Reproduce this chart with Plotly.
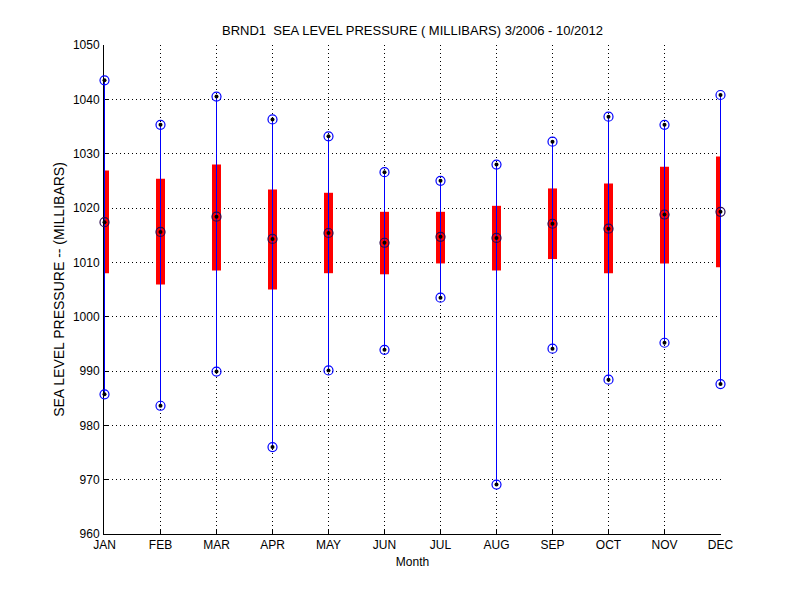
import plotly.graph_objects as go

# monthly sea level pressure stats, BRND1 (millibars)
months = ['JAN', 'FEB', 'MAR', 'APR', 'MAY', 'JUN', 'JUL', 'AUG', 'SEP', 'OCT', 'NOV', 'DEC']
p_max = [1043.5, 1035.3, 1040.5, 1036.3, 1033.2, 1026.6, 1025.0, 1028.0, 1032.2, 1036.8, 1035.3, 1040.8]
p_q3 = [1026.9, 1025.4, 1028.0, 1023.4, 1022.8, 1019.3, 1019.3, 1020.4, 1023.6, 1024.5, 1027.6, 1029.5]
p_med = [1017.4, 1015.6, 1018.4, 1014.3, 1015.4, 1013.6, 1014.7, 1014.5, 1017.1, 1016.2, 1018.8, 1019.3]
p_q1 = [1008.0, 1005.9, 1008.5, 1005.0, 1008.0, 1007.8, 1009.8, 1008.5, 1010.6, 1008.0, 1009.8, 1009.1]
p_min = [985.7, 983.6, 989.9, 976.0, 990.1, 993.9, 1003.5, 969.1, 994.1, 988.4, 995.2, 987.6]

x = list(range(1, len(months) + 1))
clear = dict(size=1, color='rgba(0,0,0,0)')

fig = go.Figure()

# red interquartile box, drawn as a thick error bar so it isn't clipped at JAN/DEC
fig.add_trace(go.Scatter(
    x=x, y=p_q1, mode='markers', marker=clear, cliponaxis=False,
    error_y=dict(type='data', symmetric=False,
                 array=[hi - lo for hi, lo in zip(p_q3, p_q1)],
                 arrayminus=[0] * len(x),
                 thickness=9, width=0, color='#ff0000'),
))

# blue whisker min -> max
fig.add_trace(go.Scatter(
    x=x, y=p_min, mode='markers', marker=clear, cliponaxis=False,
    error_y=dict(type='data', symmetric=False,
                 array=[hi - lo for hi, lo in zip(p_max, p_min)],
                 arrayminus=[0] * len(x),
                 thickness=1, width=0, color='#0000ff'),
))

# circles with a black dot at max, median, min (median ring reads darker on the red)
for vals, ring in ((p_max, '#0000ff'), (p_med, '#2a0a50'), (p_min, '#0000ff')):
    fig.add_trace(go.Scatter(x=x, y=vals, mode='markers', cliponaxis=False,
                             marker=dict(symbol='circle-open', size=9, color=ring,
                                         line=dict(width=1.2))))
    fig.add_trace(go.Scatter(x=x, y=vals, mode='markers', cliponaxis=False,
                             marker=dict(symbol='circle', size=4, color='black')))

font = 'Liberation Sans, Arial, sans-serif'
# page body adds 8px, so margins are pulled in by 8.
# plot width 617 px with half a pixel of padding each side -> 56 px per month,
# so the 1px whiskers land on whole pixels
pad = 0.5 / 56
fig.update_layout(
    width=800, height=600,
    paper_bgcolor='white', plot_bgcolor='white',
    showlegend=False,
    margin=dict(l=96, r=87, t=37, b=74),
    font=dict(family=font, size=12, color='black'),
    title=dict(text='BRND1  SEA LEVEL PRESSURE ( MILLIBARS) 3/2006 - 10/2012',
               x=0.5, xref='paper', xanchor='center',
               y=1, yref='paper', yanchor='bottom', pad=dict(b=10),
               font=dict(size=13)),
)
fig.update_xaxes(
    range=[1 - pad, 12 + pad], tickvals=x, ticktext=months,
    showline=True, linecolor='black', linewidth=1, layer='below traces',
    ticks='inside', ticklen=5, tickcolor='black',
    showgrid=True, gridcolor='black', gridwidth=1, griddash='1px,3px',
    zeroline=False,
    title=dict(text='Month', font=dict(size=12), standoff=6),
)
fig.update_yaxes(
    range=[960, 1050], dtick=10,
    showline=True, linecolor='black', linewidth=1, layer='below traces',
    ticks='inside', ticklen=5, tickcolor='black', ticklabelstandoff=1,
    showgrid=True, gridcolor='black', gridwidth=1, griddash='1px,3px',
    zeroline=False,
    title=dict(text='SEA LEVEL PRESSURE -- (MILLIBARS)', standoff=4),
)

fig.write_html('out.html')
